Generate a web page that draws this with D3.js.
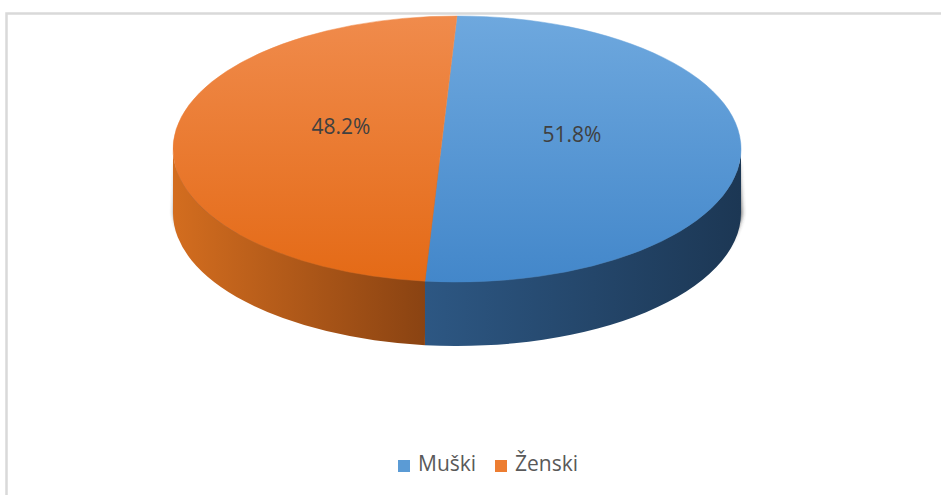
<!DOCTYPE html>
<html>
<head>
<meta charset="utf-8">
<script src="https://cdn.jsdelivr.net/npm/d3@7"></script>
<style>
  body { margin: 0; background: #fff; }
  svg text { font-family: "Liberation Sans Narrow", "Open Sans", sans-serif; }
</style>
</head>
<body>
<div id="chart"></div>
<script>
// data
const categories = ["Muški", "Ženski"];
const shares = [51.8, 48.2];
const labels = ["51.8%", "48.2%"];

const topColors = [["#6ea8de", "#4387ca"], ["#f08b4c", "#e46a16"]];
const sideColors = [["#2d5783", "#1c3754"], ["#d36d1f", "#8a4312"]];

const W = 941, H = 495;
const cx = 457, cy = 149, rx = 284, ry = 133, depth = 64;

const svg = d3.select("#chart").append("svg")
    .attr("width", W)
    .attr("height", H);

const defs = svg.append("defs");

// chart area border (cut off at right / bottom)
svg.append("rect")
    .attr("x", 6.5).attr("y", 13.5)
    .attr("width", W + 10).attr("height", H + 10)
    .attr("fill", "none")
    .attr("stroke", "#d9d9d9")
    .attr("stroke-width", 2.5);

const pie = d3.pie().sort(null).value(d => d);
const arcs = pie(shares);

function pt(a, dy) {
    return [cx + rx * Math.sin(a), cy - ry * Math.cos(a) + (dy || 0)];
}

// apex on the line between the two slice boundaries
const pA = pt(arcs[0].startAngle), pB = pt(arcs[0].endAngle);
const apex = [pA[0] + (pB[0] - pA[0]) * (cy - pA[1]) / (pB[1] - pA[1]), cy];

// gradients
arcs.forEach((d, i) => {
    const gt = defs.append("linearGradient").attr("id", "top" + i)
        .attr("x1", 0).attr("y1", 0).attr("x2", 0).attr("y2", 1);
    gt.append("stop").attr("offset", "0%").attr("stop-color", topColors[i][0]);
    gt.append("stop").attr("offset", "100%").attr("stop-color", topColors[i][1]);

    const gs = defs.append("linearGradient").attr("id", "side" + i)
        .attr("x1", i === 0 ? 0 : 0).attr("y1", 0).attr("x2", 1).attr("y2", 0);
    gs.append("stop").attr("offset", "0%").attr("stop-color", sideColors[i][0]);
    gs.append("stop").attr("offset", "100%").attr("stop-color", sideColors[i][1]);
});

const blur = defs.append("filter").attr("id", "shadow")
    .attr("x", "-10%").attr("y", "-10%").attr("width", "120%").attr("height", "140%");
blur.append("feGaussianBlur").attr("stdDeviation", 2.2);

// soft shadow under the side wall
const s0 = pt(Math.PI / 2, depth), s1 = pt(3 * Math.PI / 2, depth);
svg.append("path")
    .attr("d", `M${s0[0] - 2},${s0[1] - 50} L${s0[0] + 1},${s0[1] + 1}
        A${rx + 1},${ry + 2} 0 0 1 ${s1[0] + 1},${s1[1] + 1} L${s1[0] + 3},${s1[1] - 50} Z`)
    .attr("fill", "#3a3a3a")
    .attr("opacity", 0.85)
    .attr("filter", "url(#shadow)");

// side walls (front half only)
arcs.forEach((d, i) => {
    const a0 = Math.max(d.startAngle, Math.PI / 2);
    const a1 = Math.min(d.endAngle, 3 * Math.PI / 2);
    if (a1 <= a0) return;
    const t0 = pt(a0), t1 = pt(a1), b0 = pt(a0, depth), b1 = pt(a1, depth);
    const large = (a1 - a0) > Math.PI ? 1 : 0;
    svg.append("path")
        .attr("d", `M${t0} A${rx},${ry} 0 ${large} 1 ${t1} L${b1} A${rx},${ry} 0 ${large} 0 ${b0} Z`)
        .attr("fill", `url(#side${i})`);
});

// top faces
arcs.forEach((d, i) => {
    const p0 = pt(d.startAngle), p1 = pt(d.endAngle);
    const large = (d.endAngle - d.startAngle) > Math.PI ? 1 : 0;
    svg.append("path")
        .attr("d", `M${apex} L${p0} A${rx},${ry} 0 ${large} 1 ${p1} Z`)
        .attr("fill", `url(#top${i})`)
        .attr("stroke", `url(#top${i})`)
        .attr("stroke-width", 0.5);
});

// data labels
const labelPos = [[572, 142], [341, 134]];
arcs.forEach((d, i) => {
    svg.append("text")
        .attr("x", labelPos[i][0])
        .attr("y", labelPos[i][1])
        .attr("text-anchor", "middle")
        .attr("font-size", 21)
        .attr("fill", "#404040")
        .text(labels[i]);
});

// legend
const legendColors = ["#5b9bd5", "#ed7d31"];
const legendX = [398, 495];
const legend = svg.append("g");
categories.forEach((c, i) => {
    legend.append("rect")
        .attr("x", legendX[i]).attr("y", 460)
        .attr("width", 12).attr("height", 12)
        .attr("fill", legendColors[i]);
    legend.append("text")
        .attr("x", legendX[i] + 20).attr("y", 471)
        .attr("font-size", 21)
        .attr("fill", "#595959")
        .text(c);
});
</script>
</body>
</html>
